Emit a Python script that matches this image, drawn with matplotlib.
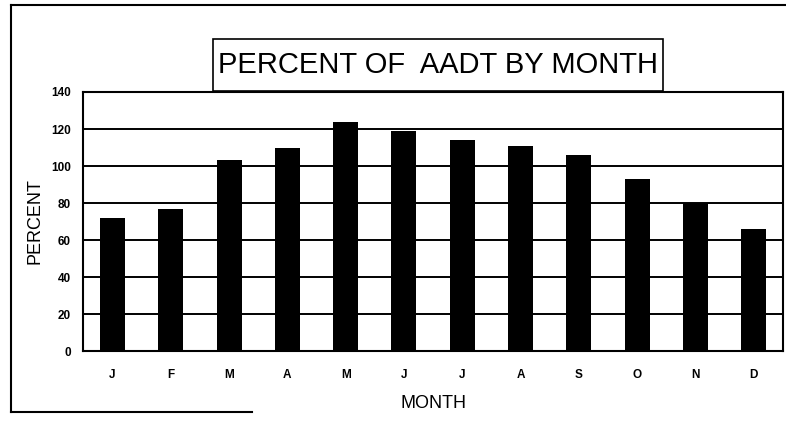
import matplotlib.pyplot as plt
from matplotlib.lines import Line2D
from matplotlib.patches import Rectangle

plt.switch_backend("Agg")
plt.rcParams["font.family"] = ["Liberation Sans", "DejaVu Sans"]

# Monthly traffic as percent of annual average daily traffic
months = ["J", "F", "M", "A", "M", "J", "J", "A", "S", "O", "N", "D"]
percent = [72, 77, 103, 110, 124, 119, 114, 111, 106, 93, 80, 66]
y_ticks = [0, 20, 40, 60, 80, 100, 120, 140]

fig = plt.figure(figsize=(7.86, 4.22), dpi=100)
ax = fig.add_axes([0.106, 0.168, 0.890, 0.614])

x = list(range(len(months)))
ax.bar(x, percent, width=0.43, color="black", zorder=3)

ax.set_xlim(-0.5, len(months) - 0.5)
ax.set_ylim(0, 140)
ax.set_yticks(y_ticks)
ax.set_yticklabels([str(v) for v in y_ticks], fontsize=8.5, fontweight="bold")
ax.set_xticks(x)
ax.set_xticklabels(months, fontsize=8.5, fontweight="bold")
ax.tick_params(axis="x", length=0, pad=13)
ax.tick_params(axis="y", length=0, pad=9)

ax.yaxis.grid(True, color="black", linewidth=1.4, zorder=1)
for s in ax.spines.values():
    s.set_linewidth(1.5)
    s.set_color("black")

ax.set_ylabel("PERCENT", fontsize=13, labelpad=5)
ax.set_xlabel("MONTH", fontsize=13, labelpad=10)

# boxed title above the plot
fig.add_artist(Rectangle((0.271, 0.785), 0.5725, 0.123, transform=fig.transFigure,
                         facecolor="white", edgecolor="black", linewidth=1.2))
fig.text(0.5575, 0.846, "PERCENT OF  AADT BY MONTH", fontsize=21,
         ha="center", va="center")

# outer frame lines
fig.add_artist(Line2D([0.014, 1.0], [0.988, 0.988], color="black", linewidth=1.5))
fig.add_artist(Line2D([0.014, 0.014], [0.988, 0.024], color="black", linewidth=1.5))
fig.add_artist(Line2D([0.014, 0.32], [0.024, 0.024], color="black", linewidth=1.5))

fig.savefig("out.png", dpi=100, facecolor="white")
plt.close(fig)
